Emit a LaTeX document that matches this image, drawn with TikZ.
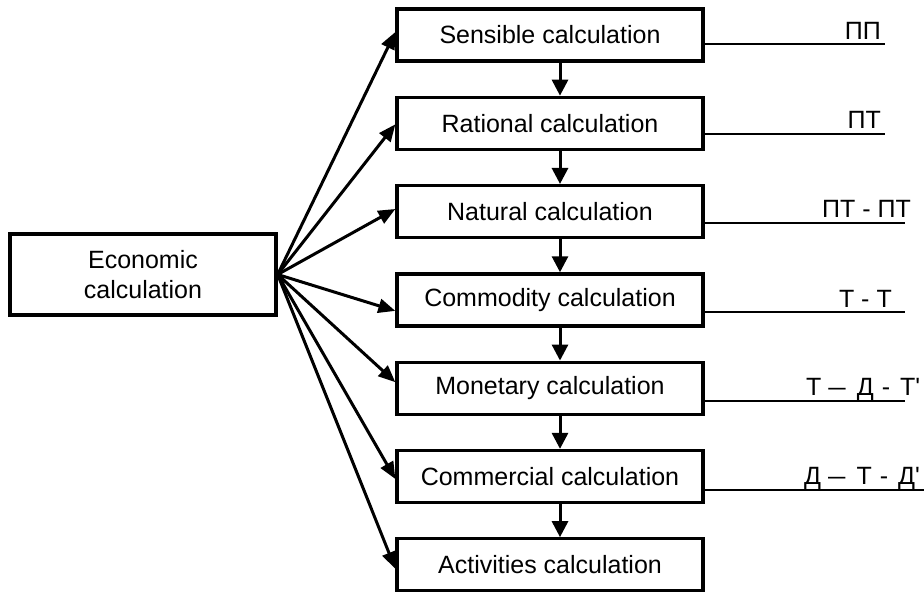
\documentclass[tikz,border=0pt]{standalone}
\usepackage{fontspec}
\usepackage{graphicx}
\setmainfont{Liberation Sans}[Ligatures=TeXOff]
\usetikzlibrary{arrows.meta}
\newcommand\kk[1]{\hspace*{#1pt}}
\newcommand\wdash{\scalebox{1.25}[1]{–}}
\tikzset{
  calcbox/.style={draw, line width=3.3pt, minimum width=306pt, minimum height=52pt, inner sep=0pt,
    font=\fontsize{25}{30}\selectfont},
  econbox/.style={draw, line width=3.3pt, minimum width=266pt, minimum height=81pt, inner sep=0pt,
    align=center, font=\fontsize{25}{30}\selectfont},
  fan/.style={line width=3pt, -{Triangle[length=17pt,width=14pt]}},
  down/.style={line width=3pt, -{Triangle[length=16pt,width=16pt]}},
  rule/.style={line width=2pt},
  formula/.style={inner sep=0pt, font=\fontsize{25}{30}\selectfont}
}
\begin{document}
\begin{tikzpicture}[x=1pt,y=-1pt]
\useasboundingbox (0,0) rectangle (924,598);
\node[econbox] (econ) at (143,274.5) {Economic\\calculation};
\node[calcbox] (s)  at (550,35.0)  {Sensible calculation};
\node[calcbox] (r)  at (550,123.3) {Rational calculation};
\node[calcbox] (n)  at (550,211.6) {Natural calculation};
\node[calcbox] (co) at (550,299.9) {Commodity calculation};
\node[calcbox] (m)  at (550,388.2) {Monetary calculation};
\node[calcbox] (cm) at (550,476.5) {Commercial calculation};
\node[calcbox] (a)  at (550,564.8) {Activities calculation};
% fan arrows
\draw[fan] (econ.east) -- ([yshift=3pt]s.west);
\draw[fan] (econ.east) -- ([yshift=-1pt]r.west);
\draw[fan] (econ.east) -- ([yshift=2.6pt]n.west);
\draw[fan] (econ.east) -- ([yshift=-11pt]co.west);
\draw[fan] (econ.east) -- ([yshift=6pt]m.west);
\draw[fan] (econ.east) -- ([yshift=-2.5pt]cm.west);
\draw[fan] (econ.east) -- ([yshift=-4pt]a.west);
% down arrows
\draw[down] ([xshift=10pt]s.south) -- ([xshift=10pt]r.north);
\draw[down] ([xshift=10pt]r.south) -- ([xshift=10pt]n.north);
\draw[down] ([xshift=10pt]n.south) -- ([xshift=10pt]co.north);
\draw[down] ([xshift=10pt]co.south) -- ([xshift=10pt]m.north);
\draw[down] ([xshift=10pt]m.south) -- ([xshift=10pt]cm.north);
\draw[down] ([xshift=10pt]cm.south) -- ([xshift=10pt]a.north);
% right rules
\coordinate (e1) at (885,44);
\coordinate (e2) at (885,134);
\coordinate (e3) at (905,223);
\coordinate (e4) at (905,312);
\coordinate (e5) at (905,401);
\coordinate (e6) at (924,490);
\draw[rule] ([yshift=-9pt]s.east) -- (e1);
\draw[rule] ([yshift=-10.7pt]r.east) -- (e2);
\draw[rule] ([yshift=-11.4pt]n.east) -- (e3);
\draw[rule] ([yshift=-12.1pt]co.east) -- (e4);
\draw[rule] ([yshift=-12.8pt]m.east) -- (e5);
\draw[rule] ([yshift=-13.5pt]cm.east) -- (e6);
% formulas
\node[formula, anchor=base east] (f1) at (881,39) {ПП};
\node[formula, anchor=base east] (f2) at (881,128) {ПТ};
\node[formula, anchor=base east] (f3) at (911,217) {ПТ - ПТ};
\node[formula, anchor=base east] (f4) at (892,307) {Т - Т};
\node[formula, anchor=base west] (f5) at (806,395) {Т\kk{7}\wdash\kk{11}Д\kk{8}-\kk{10}Т'};
\node[formula, anchor=base west] (f6) at (804,484) {Д\kk{7}\wdash\kk{11}Т\kk{8}-\kk{10}Д'};
\end{tikzpicture}
\end{document}
